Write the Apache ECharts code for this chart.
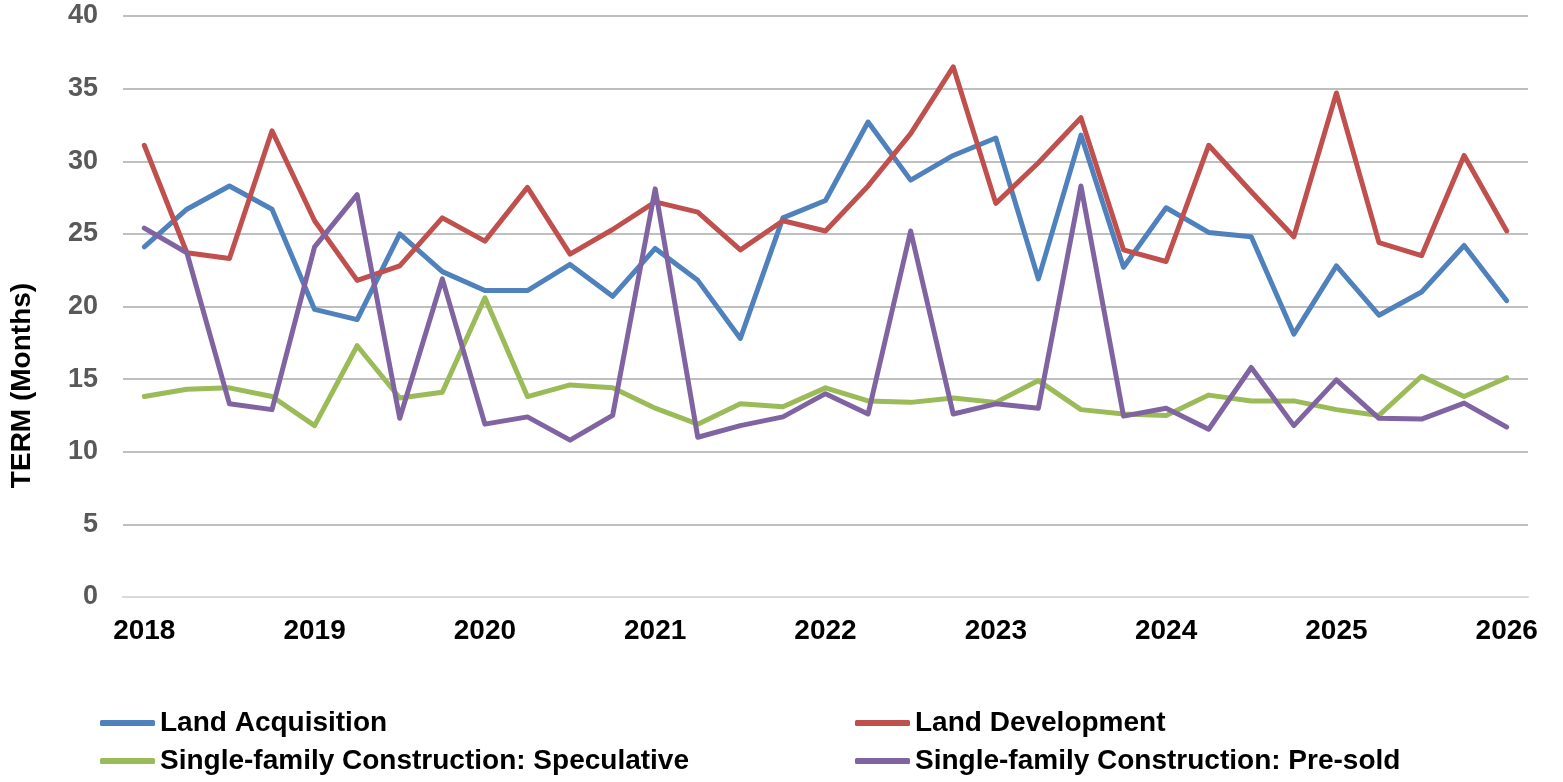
<!DOCTYPE html>
<html>
<head>
<meta charset="utf-8">
<script src="https://cdn.jsdelivr.net/npm/echarts@6/dist/echarts.min.js"></script>
<style>
  html, body { margin: 0; padding: 0; background: #fff; }
  #chart { width: 1563px; height: 782px; }
</style>
</head>
<body>
<div id="chart"></div>
<script>
const quarters = [
  '2018Q1', '2018Q2', '2018Q3', '2018Q4',
  '2019Q1', '2019Q2', '2019Q3', '2019Q4',
  '2020Q1', '2020Q2', '2020Q3', '2020Q4',
  '2021Q1', '2021Q2', '2021Q3', '2021Q4',
  '2022Q1', '2022Q2', '2022Q3', '2022Q4',
  '2023Q1', '2023Q2', '2023Q3', '2023Q4',
  '2024Q1', '2024Q2', '2024Q3', '2024Q4',
  '2025Q1', '2025Q2', '2025Q3', '2025Q4',
  '2026Q1'
];

const seriesNames = [
  'Land Acquisition',
  'Land Development',
  'Single-family Construction: Speculative',
  'Single-family Construction: Pre-sold'
];

const landAcquisition = [24.1, 26.7, 28.3, 26.7, 19.8, 19.1, 25.0, 22.4, 21.1, 21.1, 22.9, 20.7, 24.0, 21.8, 17.8, 26.1, 27.3, 32.7, 28.7, 30.4, 31.6, 21.9, 31.8, 22.7, 26.8, 25.1, 24.8, 18.1, 22.8, 19.4, 21.0, 24.2, 20.4];
const landDevelopment = [31.1, 23.7, 23.3, 32.1, 25.9, 21.8, 22.8, 26.1, 24.5, 28.2, 23.6, 25.3, 27.2, 26.5, 23.9, 25.9, 25.2, 28.3, 31.9, 36.5, 27.1, 29.9, 33.0, 23.9, 23.1, 31.1, 27.9, 24.8, 34.7, 24.4, 23.5, 30.4, 25.2];
const speculative = [13.8, 14.3, 14.4, 13.8, 11.8, 17.3, 13.7, 14.1, 20.6, 13.8, 14.6, 14.4, 13.0, 11.9, 13.3, 13.1, 14.4, 13.5, 13.4, 13.7, 13.4, 14.9, 12.9, 12.6, 12.5, 13.9, 13.5, 13.5, 12.9, 12.5, 15.2, 13.8, 15.1];
const preSold = [25.4, 23.7, 13.3, 12.9, 24.1, 27.7, 12.3, 21.9, 11.9, 12.4, 10.8, 12.5, 28.1, 11.0, 11.8, 12.4, 14.0, 12.6, 25.2, 12.6, 13.3, 13.0, 28.3, 12.45, 13.0, 11.55, 15.8, 11.8, 14.95, 12.3, 12.25, 13.35, 11.7];

const colors = ['#4f81bd', '#c0504d', '#9bbb59', '#8064a2'];
const font = 'Liberation Sans, Arial, sans-serif';

const chart = echarts.init(document.getElementById('chart'));

function makeLine(name, data, color) {
  return {
    name: name,
    type: 'line',
    data: data,
    symbol: 'none',
    color: color,
    lineStyle: { width: 5, color: color, cap: 'round', join: 'round' },
    animation: false
  };
}

const legendText = { fontFamily: font, fontSize: 28, fontWeight: 'bold', color: '#000', lineHeight: 30 };

function makeLegend(names, left) {
  return {
    data: names,
    orient: 'vertical',
    left: left,
    top: 708,
    padding: 0,
    itemWidth: 55,
    itemHeight: 6,
    itemGap: 8,
    icon: 'roundRect',
    textStyle: legendText
  };
}

const option = {
  backgroundColor: '#fff',
  textStyle: { fontFamily: font },
  grid: { left: 120, right: 35, top: 16, bottom: 185, containLabel: false },
  legend: [
    makeLegend([seriesNames[0], seriesNames[2]], 100),
    makeLegend([seriesNames[1], seriesNames[3]], 855)
  ],
  xAxis: {
    type: 'category',
    data: quarters,
    boundaryGap: true,
    axisLine: { show: true, lineStyle: { color: '#d9d9d9', width: 2 } },
    axisTick: { show: false },
    axisLabel: {
      interval: 3,
      margin: 20,
      color: '#000',
      fontFamily: font,
      fontSize: 28,
      fontWeight: 'bold',
      formatter: function (v) { return v.slice(0, 4); }
    }
  },
  yAxis: {
    type: 'value',
    min: 0,
    max: 40,
    interval: 5,
    name: 'TERM (Months)',
    nameLocation: 'middle',
    nameGap: 87,
    nameTextStyle: {
      fontFamily: font,
      fontSize: 28,
      fontWeight: 'bold',
      color: '#000',
      padding: [0, 158, 0, 0]
    },
    axisLine: { show: false },
    axisTick: { show: false },
    axisLabel: {
      margin: 25,
      color: '#595959',
      fontFamily: font,
      fontSize: 27,
      fontWeight: 'bold'
    },
    splitLine: { lineStyle: { color: '#bfbfbf', width: 2 } }
  },
  series: [
    makeLine(seriesNames[0], landAcquisition, colors[0]),
    makeLine(seriesNames[1], landDevelopment, colors[1]),
    makeLine(seriesNames[2], speculative, colors[2]),
    makeLine(seriesNames[3], preSold, colors[3])
  ]
};

chart.setOption(option);
</script>
</body>
</html>
